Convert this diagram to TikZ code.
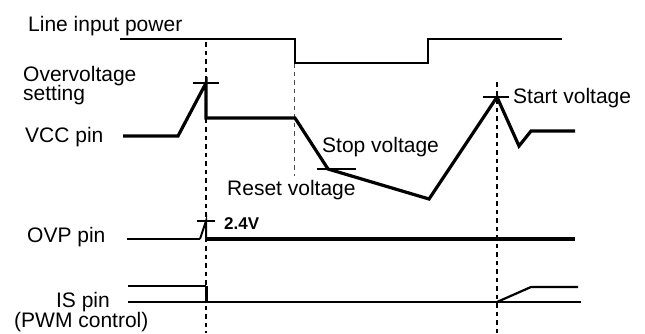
\documentclass[tikz,border=0pt]{standalone}
\usepackage{fontspec}
\setmainfont{Liberation Sans}
\begin{document}
\begin{tikzpicture}[x=1pt,y=-1pt,
  lbl/.style={inner sep=0pt,anchor=base west,font=\fontsize{21}{20}\selectfont},
  sig/.style={line width=3.2pt,line join=miter},
  thin sig/.style={line width=2.2pt},
  guide/.style={line width=1.5pt,dash pattern=on 4.5pt off 4pt},
  tick/.style={line width=1.7pt}]
\useasboundingbox (0,0) rectangle (645,333);
% labels
\node[lbl] (tline) at (28,31) {Line input power};
\node[lbl] (tov1) at (23,81) {Overvoltage};
\node[lbl] (tov2) at (23,100) {setting};
\node[lbl] (tvcc) at (25,142) {VCC pin};
\node[lbl] (tstop) at (322,152) {Stop voltage};
\node[lbl] (treset) at (227,195) {Reset voltage};
\node[lbl] (tstart) at (513,103) {Start voltage};
\node[inner sep=0pt,anchor=base west,font=\fontsize{17}{17}\selectfont\bfseries] (t24) at (224,229) {2.4V};
\node[lbl] (tovp) at (27,242) {OVP pin};
\node[lbl,anchor=base east] (tis) at (110,307) {IS pin};
\node[lbl] (tpwm) at (14,327) {(PWM control)};
% guide lines
\coordinate (g1a) at (206,42); \coordinate (g1b) at (206,333);
\coordinate (g2a) at (294,63); \coordinate (g2b) at (294,176);
\coordinate (g3a) at (497,82); \coordinate (g3b) at (497,333);
\draw[guide] (g1a) -- (g1b);
\draw[guide,line width=1pt,gray!60!black] (g2a) -- (g2b);
\draw[guide] (g3a) -- (g3b);
% line input power
\coordinate (l0) at (120,39); \coordinate (l1) at (295,39); \coordinate (l2) at (295,63);
\coordinate (l3) at (428,63); \coordinate (l4) at (428,39); \coordinate (l5) at (562,39);
\draw[line width=2.8pt] (l0) -- (l1) -- (l2) -- (l3) -- (l4) -- (l5);
% VCC
\coordinate (v0) at (123,136); \coordinate (v1) at (178,136); \coordinate (vpk) at (206,83);
\coordinate (v2) at (206,118); \coordinate (v3) at (295,118); \coordinate (vstop) at (328,169);
\coordinate (vmin) at (429,199); \coordinate (vstart) at (497,97); \coordinate (v4) at (519,146);
\coordinate (v5) at (531,131); \coordinate (v6) at (575,131);
\draw[sig] (v0) -- (v1) -- (vpk) -- (v2) -- (v3) -- (vstop) -- (vmin) -- (vstart) -- (v4) -- (v5) -- (v6);
\draw[tick] ([xshift=-13pt]vpk) -- ([xshift=13pt]vpk);
\draw[tick,line width=2.2pt] ([xshift=-11pt]vstop) -- ([xshift=28pt]vstop);
\draw[tick] ([xshift=-14pt]vstart) -- ([xshift=12pt]vstart);
% OVP
\coordinate (o0) at (127,239); \coordinate (o1) at (200,239); \coordinate (opk) at (206,221);
\coordinate (o2) at (206,239); \coordinate (o3) at (575,239);
\draw[line width=1.8pt] (o0) -- (o1);
\draw[line width=2pt] (o1) -- (opk) -- (o2);
\draw[line width=4pt] ([xshift=-1pt]o2) -- (o3);
\draw[tick] ([xshift=-9pt]opk) -- ([xshift=9pt]opk);
% IS
\coordinate (i0) at (128,286); \coordinate (i1) at (206,286); \coordinate (i2) at (206,302);
\coordinate (j0) at (128,302); \coordinate (j1) at (581,302);
\coordinate (k0) at (497,302); \coordinate (k1) at (531,287); \coordinate (k2) at (578,287);
\draw[thin sig] (i0) -- (i1);
\draw[line width=3pt] (i1) -- (i2);
\draw[thin sig] (j0) -- (j1);
\draw[thin sig] (k0) -- (k1) -- (k2);
\end{tikzpicture}
\end{document}
